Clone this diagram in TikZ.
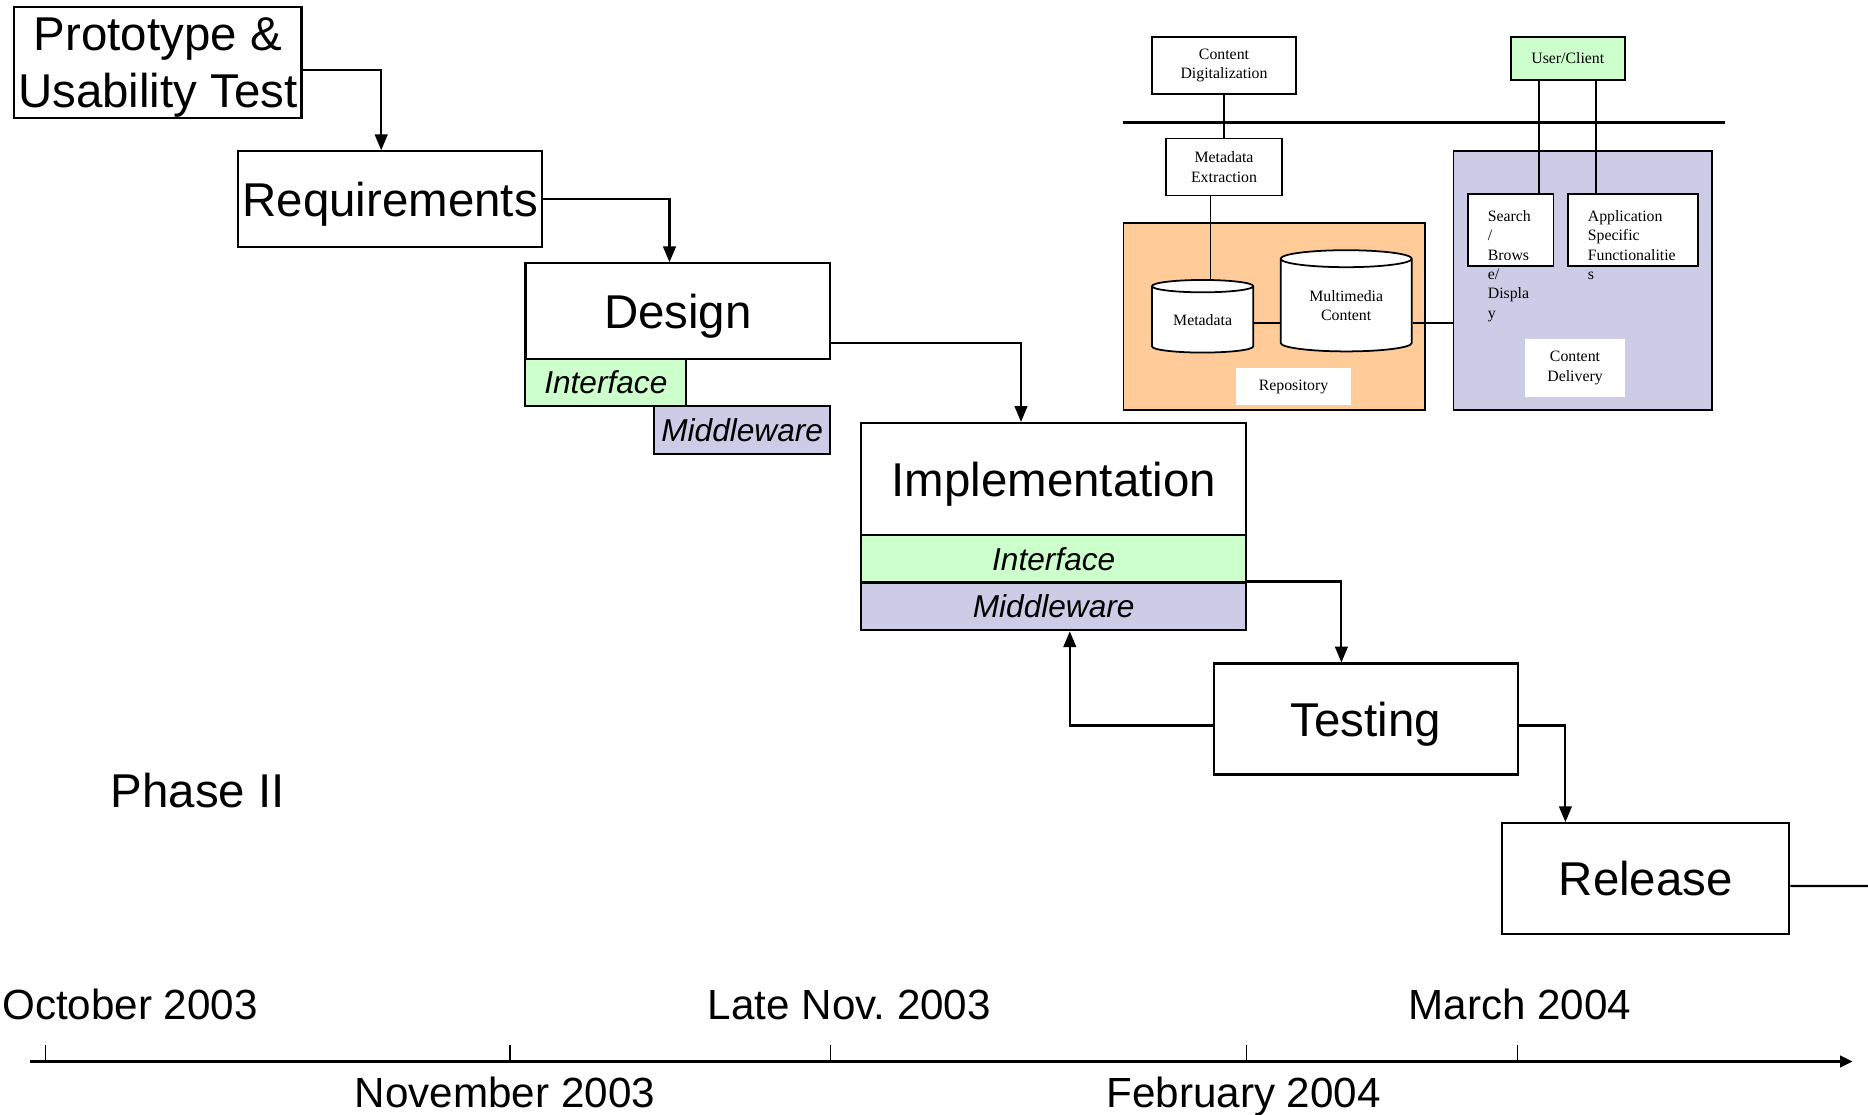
\documentclass[tikz,border=0pt]{standalone}
\usepackage{fontspec}
\setmainfont{Liberation Sans}
\newfontfamily\archfont{Liberation Serif}
\usepackage{tikz}
\usetikzlibrary{arrows.meta,shapes.geometric}
\pgfdeclarelayer{bg}
\pgfsetlayers{bg,main}
\frenchspacing

\definecolor{ifgreen}{RGB}{204,255,204}
\definecolor{mwblue}{RGB}{204,204,230}
\definecolor{repopeach}{RGB}{255,204,153}

\tikzset{
  phase/.style={draw, line width=0.6pt, fill=white, inner sep=0pt, text depth=0pt, align=center, font=\fontsize{13.5}{16.2}\selectfont},
  layer/.style={draw, line width=0.6pt, inner sep=0pt, font=\fontsize{9}{10.8}\selectfont\itshape},
  flow/.style={line width=0.6pt, -{Triangle[length=4.5pt,width=3.6pt]}},
  arch/.style={draw, line width=0.5pt, fill=white, inner sep=0pt, align=center, font=\archfont\fontsize{4.5}{5.5}\selectfont},
  archtxt/.style={inner sep=0pt, align=left, font=\archfont\fontsize{4.5}{5.5}\selectfont},
  db/.style={arch, cylinder, shape border rotate=90},
  wire/.style={line width=0.5pt},
  date/.style={inner sep=0pt, anchor=base, font=\fontsize{12}{14.4}\selectfont},
}

\begin{document}
\begin{tikzpicture}
        \useasboundingbox (0,0) rectangle (18.68,-11.15);
        % process steps
        \node (proto) [phase, minimum width=2.871cm, minimum height=1.108cm] at (1.579cm, -0.625cm) {Prototype \&\\Usability Test};
        \node (req) [phase, minimum width=3.037cm, minimum height=0.953cm] at (3.902cm, -1.990cm) {Requirements};
        \node (design) [phase, minimum width=3.049cm, minimum height=0.953cm] at (6.779cm, -3.110cm) {Design};
        \node (dif) [layer, fill=ifgreen, minimum width=1.608cm, minimum height=0.476cm] at (6.058cm, -3.824cm) {Interface};
        \node (dmw) [layer, fill=mwblue, minimum width=1.763cm, minimum height=0.477cm] at (7.422cm, -4.300cm) {Middleware};
        \node (impl) [phase, minimum width=3.847cm, minimum height=1.120cm] at (10.537cm, -4.790cm) {Implementation};
        \node (iif) [layer, fill=ifgreen, minimum width=3.847cm, minimum height=0.475cm] at (10.537cm, -5.588cm) {Interface};
        \node (imw) [layer, fill=mwblue, minimum width=3.847cm, minimum height=0.477cm] at (10.537cm, -6.064cm) {Middleware};
        \node (test) [phase, minimum width=3.037cm, minimum height=1.109cm] at (13.659cm, -7.190cm) {Testing};
        \node (rel) [phase, minimum width=2.871cm, minimum height=1.108cm] at (16.458cm, -8.786cm) {Release};
        \coordinate (relend) at (18.68cm, -8.860cm);
        \node (phase2) [inner sep=0pt, anchor=base, font=\fontsize{13.5}{16.2}\selectfont] at (1.978cm, -8.07cm) {Phase II};

        \draw [flow] ([yshift=-0.078cm]proto.east) -| ([xshift=-0.090cm]req.north);
        \draw [flow] (req.east) -| ([xshift=-0.084cm]design.north);
        \draw [flow] ([yshift=-0.320cm]design.east) -| ([xshift=-0.327cm]impl.north);
        \draw [flow] (imw.north east) -| ([xshift=-0.245cm]test.north);
        \draw [flow] ([yshift=-0.065cm]test.west) -| ([xshift=0.161cm]imw.south);
        \draw [flow] ([yshift=-0.065cm]test.east) -| ([xshift=-0.804cm]rel.north);
        \draw [wire, line width=0.6pt] ([yshift=-0.074cm]rel.east) -- (relend);

        % architecture sketch
        \node (repo) [arch, fill=repopeach, minimum width=3.014cm, minimum height=1.870cm] at (12.741cm, -3.163cm) {};
        \node (cdel) [arch, fill=mwblue, minimum width=2.585cm, minimum height=2.585cm] at (15.827cm, -2.806cm) {};
        \node (repolbl) [archtxt, fill=white, align=center, minimum width=1.143cm, minimum height=0.370cm] at (12.935cm, -3.865cm) {Repository};
        \node (cdellbl) [archtxt, fill=white, align=center, minimum width=1.001cm, minimum height=0.572cm] at (15.750cm, -3.680cm) {Content\\Delivery};
        \node (cdig) [arch, minimum width=1.440cm, minimum height=0.571cm] at (12.240cm, -0.655cm) {Content\\Digitalization};
        \node (user) [arch, fill=ifgreen, minimum width=1.144cm, minimum height=0.428cm] at (15.678cm, -0.584cm) {User/Client};
        \node (mext) [arch, minimum width=1.155cm, minimum height=0.572cm] at (12.240cm, -1.670cm) {Metadata\\Extraction};
        \node (meta) [db, aspect=0.21, minimum width=1.012cm, minimum height=0.726cm] at (12.026cm, -3.198cm) {Metadata};
        \node (mmc) [db, aspect=0.23, minimum width=1.311cm, minimum height=1.012cm] at (13.462cm, -3.055cm) {Multimedia\\Content};
        \node (search) [arch, minimum width=0.858cm, minimum height=0.715cm] at (15.106cm, -2.300cm) {};
        \node (app) [arch, minimum width=1.298cm, minimum height=0.715cm] at (16.327cm, -2.300cm) {};
        \node (searchtxt) [archtxt, anchor=north west] at ([xshift=0.203cm, yshift=-0.165cm]search.north west) {Search\\/\\Brows\\e/\\Displa\\y};
        \node (apptxt) [archtxt, anchor=north west] at ([xshift=0.202cm, yshift=-0.165cm]app.north west) {Application\\Specific\\Functionalitie\\s};
        \coordinate (busl) at (11.234cm, -1.227cm);
        \coordinate (busr) at (17.250cm, -1.227cm);

        \draw [line width=0.8pt] (busl) -- (busr);
        \draw [wire] (cdig.south) -- (mext.north);
        \draw [wire] ([xshift=-0.136cm]mext.south) -- ([xshift=-0.136cm]mext.south |- meta.north);
        \draw [wire] ([yshift=-0.030cm]meta.east) -- ([yshift=-0.030cm]meta.east -| mmc.west);
        \draw [wire] ([yshift=-0.030cm]meta.east -| mmc.east) -- ([yshift=-0.030cm]meta.east -| cdel.west);
        \draw [wire] ([xshift=-0.286cm]user.south) -- ([xshift=-0.286cm]user.south |- search.north);
        \draw [wire] ([xshift=0.285cm]user.south) -- ([xshift=0.285cm]user.south |- app.north);

        % time line
        \coordinate (ax0) at (0.298cm, -10.615cm);
        \coordinate (ax1) at (18.525cm, -10.615cm);
        \draw [line width=0.8pt, -{Triangle[length=3.5pt,width=3.2pt]}] (ax0) -- (ax1);
        \foreach \tx in {0.453,5.099,8.303,12.461,15.177}
                \draw [line width=0.35pt] (\tx cm, -10.448cm) -- (\tx cm, -10.615cm);
        \node (d1) [date] at (1.300cm, -10.19cm) {October 2003};
        \node (d2) [date] at (5.050cm, -11.07cm) {November 2003};
        \node (d3) [date] at (8.494cm, -10.19cm) {Late Nov. 2003};
        \node (d4) [date] at (12.437cm, -11.07cm) {February 2004};
        \node (d5) [date] at (15.200cm, -10.19cm) {March 2004};
\end{tikzpicture}
\end{document}
